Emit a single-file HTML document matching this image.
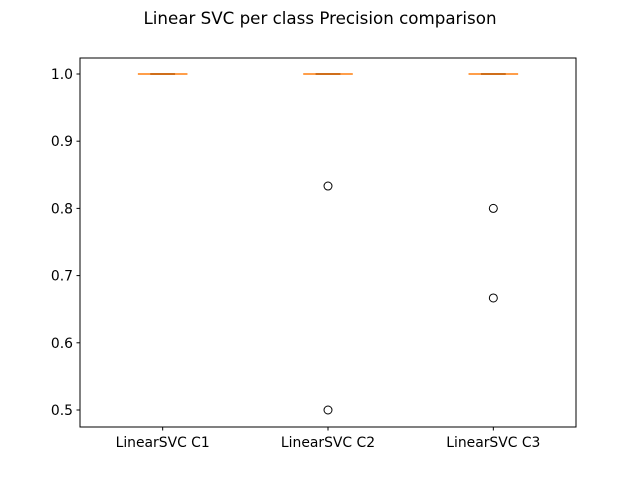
<!DOCTYPE html>
<html><head><meta charset="utf-8"><style>
body{margin:0;background:#fff;}
svg{display:block;font-family:"DejaVu Sans","Liberation Sans",sans-serif;}
</style></head><body>
<svg id="chart" width="640" height="480">
<rect width="640" height="480" fill="#fff"/>
<text x="320" y="24" text-anchor="middle" font-size="16.7" fill="#000">Linear SVC per class Precision comparison</text>
<g id="plot"></g>
<rect x="80" y="58" width="496" height="369" fill="none" stroke="#000" stroke-width="1"/>
</svg>
<script>
const categories = ["LinearSVC C1","LinearSVC C2","LinearSVC C3"];
const q1 = [1.0,1.0,1.0];
const q3 = [1.0,1.0,1.0];
const medians = [1.0,1.0,1.0];
const whiskLo = [1.0,1.0,1.0];
const whiskHi = [1.0,1.0,1.0];
const outliers = [[],[0.8333,0.5],[0.8,0.6667]];
const yTicks = [0.5,0.6,0.7,0.8,0.9,1.0];
const yTickLabels = ["0.5","0.6","0.7","0.8","0.9","1.0"];

const L=80,R=576,T=58,B=427, yMin=0.4747, yMax=1.0238;
const NS="http://www.w3.org/2000/svg";
const g=document.getElementById('plot');
function y(v){return B-(v-yMin)/(yMax-yMin)*(B-T);}
function x(i){return L+(i+0.5)/categories.length*(R-L);}
const bw=0.3*(R-L)/categories.length;
function el(t,a){const e=document.createElementNS(NS,t);for(const k in a)e.setAttribute(k,a[k]);g.appendChild(e);return e;}

yTicks.forEach((v,i)=>{
  const t=el('line',{x1:L-3.5,x2:L,y1:y(v),y2:y(v),stroke:'#000'});
  
  
  const s=el('text',{x:L-7,y:y(v)+5,'text-anchor':'end','font-size':'13.9'});
  s.textContent=yTickLabels[i];
  
  
});
categories.forEach((c,i)=>{
  const cx=x(i);
  const t=el('line',{x1:cx,x2:cx,y1:B,y2:B+3.5,stroke:'#000'});
  
  
  const s=el('text',{x:cx,y:B+20,'text-anchor':'middle','font-size':'13.9'});
  s.textContent=c;
  
  
  const box=el('rect',{x:cx-bw/2,y:y(q3[i]),width:bw,height:Math.max(0,y(q1[i])-y(q3[i])),fill:'none',stroke:'#000','stroke-width':1.5});
  
  
  [[whiskLo[i],q1[i]],[whiskHi[i],q3[i]]].forEach(([w,q])=>{
    const wl=el('line',{x1:cx,x2:cx,y1:y(w),y2:y(q),stroke:'#000'});
    
    
    const cap=el('line',{x1:cx-bw/4,x2:cx+bw/4,y1:y(w),y2:y(w),stroke:'#000','stroke-width':1.5});
    
    
  });
  const m=el('line',{x1:cx-bw/2,x2:cx+bw/2,y1:y(medians[i]),y2:y(medians[i]),stroke:'#ff7f0e','stroke-width':1.5});
  
  
  outliers[i].forEach(v=>{
    const o=el('circle',{cx:cx,cy:y(v),r:4,fill:'none',stroke:'#000'});
    
    
  });
});
</script>
</body></html>
